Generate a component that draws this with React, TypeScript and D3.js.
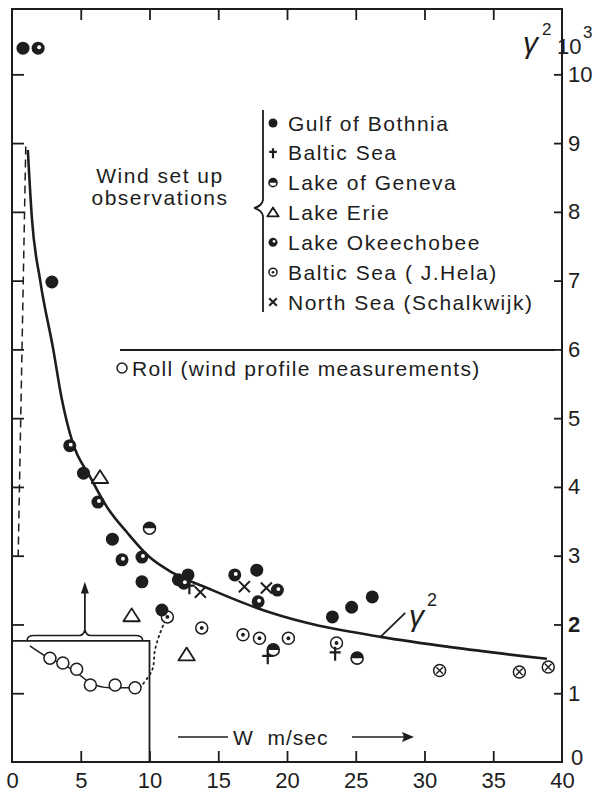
import React, { useEffect, useRef } from 'react';
import * as d3 from 'd3';

// wind speed W (m/sec) and gamma^2 (x10^3)
const bothniaW = [0.8, 2.9, 5.2, 7.3, 9.45, 10.9, 12.1, 12.8, 17.8, 23.3, 24.7, 26.2];
const bothniaV = [10.38, 6.98, 4.2, 3.24, 2.62, 2.21, 2.65, 2.72, 2.79, 2.11, 2.25, 2.4];
const okeeW = [1.9, 4.2, 6.25, 8.0, 9.45, 12.5, 16.2, 17.9, 19.3];
const okeeV = [10.38, 4.6, 3.78, 2.94, 2.98, 2.6, 2.72, 2.33, 2.5];
const genevaW = [10.0, 19.0, 25.1];
const genevaV = [3.4, 1.63, 1.51];
const erieW = [6.4, 8.7, 12.7];
const erieV = [4.14, 2.13, 1.56];
const balticW = [12.9, 18.6, 23.5];
const balticV = [2.55, 1.53, 1.58];
const helaW = [11.3, 13.8, 16.8, 18.0, 20.1, 23.6];
const helaV = [2.11, 1.95, 1.85, 1.8, 1.8, 1.73];
const helaXW = [31.1, 36.9, 39.0];
const helaXV = [1.33, 1.31, 1.38];
const northW = [13.7, 16.9, 18.5];
const northV = [2.47, 2.55, 2.53];

// Roll (wind profile) inset
const rollW = [2.76, 3.7, 4.7, 5.7, 7.5, 8.95];
const rollV = [1.51, 1.44, 1.35, 1.12, 1.12, 1.08];
const rollCurveW = [1.3, 2.8, 3.7, 4.7, 5.7, 7.1, 9.3];
const rollCurveV = [1.69, 1.5, 1.42, 1.3, 1.15, 1.08, 1.08];
const rollDotW = [9.3, 10.2, 10.4, 10.76, 11.2];
const rollDotV = [1.08, 1.34, 1.63, 1.87, 2.08];

// fitted gamma^2 curve
const curveW = [1.15, 1.45, 2.05, 3.0, 3.6, 4.4, 5.7, 6.9, 8.4, 10, 11.7, 14.2, 17.8, 21.5, 26.8, 31.9, 38.9];
const curveV = [8.9, 7.9, 7.0, 6.0, 5.3, 4.65, 4.14, 3.71, 3.33, 2.98, 2.75, 2.53, 2.24, 2.02, 1.82, 1.67, 1.5];
const dashW = [1.0, 0.45];
const dashV = [8.95, 3.0];

const xTicks = [0, 5, 10, 15, 20, 25, 30, 35, 40];
const yTicks = [0, 1, 2, 3, 4, 5, 6, 7, 8, 9, 10];

const legendNames = [
  'Gulf of Bothnia',
  'Baltic Sea',
  'Lake of Geneva',
  'Lake Erie',
  'Lake Okeechobee',
  'Baltic Sea ( J.Hela)',
  'North Sea (Schalkwijk)',
];
const legendKinds = ['filled', 'baltic', 'geneva', 'erie', 'okee', 'hela', 'north'];

const INK = '#1d1d1d';
const FONT = '"Liberation Sans", Arial, sans-serif';

function symbol(g: any, kind: string, cx: number, cy: number, r = 6) {
  if (kind === 'filled') {
    g.append('circle').attr('cx', cx).attr('cy', cy).attr('r', r).attr('fill', INK);
  } else if (kind === 'okee') {
    g.append('circle').attr('cx', cx).attr('cy', cy).attr('r', r).attr('fill', INK);
    g.append('circle').attr('cx', cx + 1).attr('cy', cy - 1).attr('r', r * 0.3).attr('fill', '#fff');
  } else if (kind === 'geneva') {
    const rr = r - 0.5;
    g.append('circle').attr('cx', cx).attr('cy', cy).attr('r', rr).attr('fill', '#fff').attr('stroke', INK).attr('stroke-width', 1.6);
    g.append('path')
      .attr('d', `M${cx - rr},${cy} A${rr},${rr} 0 0 1 ${cx + rr},${cy} Z`)
      .attr('fill', INK);
  } else if (kind === 'erie') {
    const s = r * 1.1;
    g.append('path')
      .attr('d', `M${cx},${cy - s} L${cx + s * 1.15},${cy + s * 0.8} L${cx - s * 1.15},${cy + s * 0.8} Z`)
      .attr('fill', '#fff').attr('stroke', INK).attr('stroke-width', 1.8).attr('stroke-linejoin', 'round');
  } else if (kind === 'baltic') {
    g.append('path')
      .attr('d', `M${cx},${cy - r} L${cx},${cy + r + 1} M${cx - r * 0.85},${cy - 1} L${cx + r * 0.85},${cy - 1}`)
      .attr('stroke', INK).attr('stroke-width', 2.2);
  } else if (kind === 'hela' || kind === 'helaX' || kind === 'roll') {
    const rr = r - 0.5;
    g.append('circle').attr('cx', cx).attr('cy', cy).attr('r', rr).attr('fill', '#fff').attr('stroke', INK).attr('stroke-width', 1.5);
    if (kind === 'hela') {
      g.append('circle').attr('cx', cx).attr('cy', cy).attr('r', rr * 0.32).attr('fill', INK);
    } else if (kind === 'helaX') {
      const k = rr * 0.55;
      g.append('path')
        .attr('d', `M${cx - k},${cy - k} L${cx + k},${cy + k} M${cx + k},${cy - k} L${cx - k},${cy + k}`)
        .attr('stroke', INK).attr('stroke-width', 1.4);
    }
  } else if (kind === 'north') {
    const k = r * 0.85;
    g.append('path')
      .attr('d', `M${cx - k},${cy - k} L${cx + k},${cy + k} M${cx + k},${cy - k} L${cx - k},${cy + k}`)
      .attr('stroke', INK).attr('stroke-width', 2);
  }
}

export default function App() {
  const ref = useRef<SVGSVGElement>(null);

  useEffect(() => {
    const svg = d3.select(ref.current);
    svg.selectAll('*').remove();

    const x = d3.scaleLinear().domain([0, 40]).range([12, 562]);
    const y = d3.scaleLinear().domain([0, 10.95]).range([762, 9]);

    const g = svg.append('g');

    // frame
    g.append('rect')
      .attr('x', x(0)).attr('y', y(10.95))
      .attr('width', x(40) - x(0)).attr('height', y(0) - y(10.95))
      .attr('fill', 'none').attr('stroke', INK).attr('stroke-width', 2);

    // axes, ticks pointing inward
    const bottom = g.append('g').attr('transform', `translate(0,${y(0)})`)
      .call(d3.axisBottom(x).tickValues(xTicks).tickSizeInner(-11).tickSizeOuter(0).tickPadding(10));
    const top = g.append('g').attr('transform', `translate(0,${y(10.95)})`)
      .call(d3.axisTop(x).tickValues(xTicks.slice(1, -1)).tickSizeInner(-11).tickSizeOuter(0).tickFormat(() => ''));
    const left = g.append('g').attr('transform', `translate(${x(0)},0)`)
      .call(d3.axisLeft(y).tickValues(yTicks.slice(1)).tickSizeInner(-12).tickSizeOuter(0).tickFormat(() => ''));
    const right = g.append('g').attr('transform', `translate(${x(40)},0)`)
      .call(d3.axisRight(y).tickValues(yTicks).tickSizeInner(-8).tickSizeOuter(0).tickPadding(6));
    [bottom, top, left, right].forEach(a => {
      a.select('.domain').remove();
      a.selectAll('line').attr('stroke', INK).attr('stroke-width', 1.8);
      a.selectAll('text').attr('fill', INK).attr('font-family', FONT).attr('font-size', 22);
    });
    bottom.selectAll('.tick').filter((d: any) => d === 0 || d === 40).select('line').remove();
    right.selectAll('.tick').filter((d: any) => d === 0).select('line').remove();
    right.selectAll('.tick').filter((d: any) => d === 0).select('text').attr('dy', '0.1em').attr('x', 9);
    right.selectAll('.tick').filter((d: any) => d === 2).select('text').attr('font-weight', 'bold');

    // gamma^2 x 10^3 unit label
    const unit = g.append('g').attr('font-family', FONT).attr('fill', INK);
    unit.append('text').attr('x', 523).attr('y', 53).attr('font-size', 30).attr('font-style', 'italic').text('γ');
    unit.append('text').attr('x', 542).attr('y', 35).attr('font-size', 17).text('2');
    unit.append('text').attr('x', 557).attr('y', 54).attr('font-size', 22).text('10');
    unit.append('text').attr('x', 583).attr('y', 38).attr('font-size', 17).text('3');

    // main fitted curve
    const line = d3.line<[number, number]>().x(d => x(d[0])).y(d => y(d[1])).curve(d3.curveMonotoneX);
    g.append('path')
      .datum(curveW.map((w, i) => [w, curveV[i]] as [number, number]))
      .attr('d', line).attr('fill', 'none').attr('stroke', INK).attr('stroke-width', 2.6);
    g.append('path')
      .datum(dashW.map((w, i) => [w, dashV[i]] as [number, number]))
      .attr('d', d3.line<[number, number]>().x(d => x(d[0])).y(d => y(d[1])))
      .attr('fill', 'none').attr('stroke', INK).attr('stroke-width', 1.5).attr('stroke-dasharray', '8,5');

    // gamma^2 label and leader
    g.append('line')
      .attr('x1', x(26.8)).attr('y1', y(1.82)).attr('x2', x(28.6)).attr('y2', y(2.17))
      .attr('stroke', INK).attr('stroke-width', 1.8);
    g.append('text').attr('x', 409).attr('y', 626).attr('font-size', 30).attr('font-family', FONT).attr('font-style', 'italic').attr('fill', INK).text('γ');
    g.append('text').attr('x', 427).attr('y', 606).attr('font-size', 18).attr('font-family', FONT).attr('fill', INK).text('2');

    // Roll inset box, brace and arrow
    g.append('path')
      .attr('d', `M${x(0)},${y(1.76)} L${x(10)},${y(1.76)} L${x(10)},${y(0)}`)
      .attr('fill', 'none').attr('stroke', INK).attr('stroke-width', 1.8);
    const by = y(1.84);
    g.append('path')
      .attr('d', `M${x(1.1)},${by + 5} Q${x(1.1)},${by} ${x(1.6)},${by} L${x(4.9)},${by} Q${x(5.2)},${by} ${x(5.3)},${by - 6} Q${x(5.4)},${by} ${x(5.7)},${by} L${x(9.0)},${by} Q${x(9.5)},${by} ${x(9.5)},${by + 5}`)
      .attr('fill', 'none').attr('stroke', INK).attr('stroke-width', 1.6);
    g.append('line')
      .attr('x1', x(5.3)).attr('y1', by - 6).attr('x2', x(5.3)).attr('y2', y(2.52))
      .attr('stroke', INK).attr('stroke-width', 1.8);
    g.append('path')
      .attr('d', `M${x(5.3)},${y(2.62)} L${x(5.3) - 4},${y(2.45)} L${x(5.3) + 4},${y(2.45)} Z`)
      .attr('fill', INK);
    g.append('path')
      .datum(rollCurveW.map((w, i) => [w, rollCurveV[i]] as [number, number]))
      .attr('d', line).attr('fill', 'none').attr('stroke', INK).attr('stroke-width', 1.5);
    g.append('path')
      .datum(rollDotW.map((w, i) => [w, rollDotV[i]] as [number, number]))
      .attr('d', d3.line<[number, number]>().x(d => x(d[0])).y(d => y(d[1])).curve(d3.curveCatmullRom))
      .attr('fill', 'none').attr('stroke', INK).attr('stroke-width', 1.8).attr('stroke-dasharray', '1.5,4').attr('stroke-linecap', 'round');
    rollW.forEach((w, i) => symbol(g, 'roll', x(w), y(rollV[i]), 6.5));

    // observations
    const pts = g.append('g');
    const series: [string, number[], number[]][] = [
      ['erie', erieW, erieV],
      ['hela', helaW, helaV],
      ['helaX', helaXW, helaXV],
      ['geneva', genevaW, genevaV],
      ['filled', bothniaW, bothniaV],
      ['okee', okeeW, okeeV],
      ['baltic', balticW, balticV],
      ['north', northW, northV],
    ];
    series.forEach(([kind, ws, vs]) => {
      ws.forEach((w, i) => symbol(pts, kind, x(w), y(vs[i]), 6.5));
    });

    // legend
    const lg = g.append('g').attr('font-family', FONT).attr('fill', INK);
    const rowY = d3.scaleLinear().domain([0, legendNames.length - 1]).range([123, 302]);
    lg.append('path')
      .attr('d', `M263,110 L263,200 Q262,206 254,208 Q262,210 263,216 L263,312`)
      .attr('fill', 'none').attr('stroke', INK).attr('stroke-width', 1.8);
    legendNames.forEach((name, i) => {
      symbol(lg, legendKinds[i], 273, rowY(i), 4.5);
      lg.append('text')
        .attr('x', 288).attr('y', rowY(i)).attr('dy', '0.36em')
        .attr('font-size', 21).attr('letter-spacing', 1.5).text(name);
    });
    lg.append('text').attr('x', 160).attr('y', 183).attr('text-anchor', 'middle')
      .attr('font-size', 21).attr('letter-spacing', 1.5).text('Wind set up');
    lg.append('text').attr('x', 160).attr('y', 205).attr('text-anchor', 'middle')
      .attr('font-size', 21).attr('letter-spacing', 1.5).text('observations');

    // Roll legend
    lg.append('line').attr('x1', 120).attr('y1', 350).attr('x2', 555).attr('y2', 350)
      .attr('stroke', INK).attr('stroke-width', 1.8);
    symbol(lg, 'roll', 122, 368, 5.5);
    lg.append('text').attr('x', 132).attr('y', 368).attr('dy', '0.36em')
      .attr('font-size', 21).attr('letter-spacing', 1.3).text('Roll (wind profile measurements)');

    // x axis title with arrows
    const ty = 737;
    lg.append('line').attr('x1', 178).attr('y1', ty).attr('x2', 228).attr('y2', ty)
      .attr('stroke', INK).attr('stroke-width', 1.6);
    lg.append('text').attr('x', 233).attr('y', ty).attr('dy', '0.36em')
      .attr('font-size', 21).attr('letter-spacing', 1).attr('xml:space', 'preserve').text('W  m/sec');
    lg.append('line').attr('x1', 352).attr('y1', ty).attr('x2', 406).attr('y2', ty)
      .attr('stroke', INK).attr('stroke-width', 1.6);
    lg.append('path').attr('d', `M414,${ty} L402,${ty - 5} L404,${ty} L402,${ty + 5} Z`).attr('fill', INK);
  }, []);

  return (
    <svg
      ref={ref}
      width={599}
      height={793}
      style={{ position: 'absolute', left: 0, top: 0, background: '#fff' }}
    />
  );
}
